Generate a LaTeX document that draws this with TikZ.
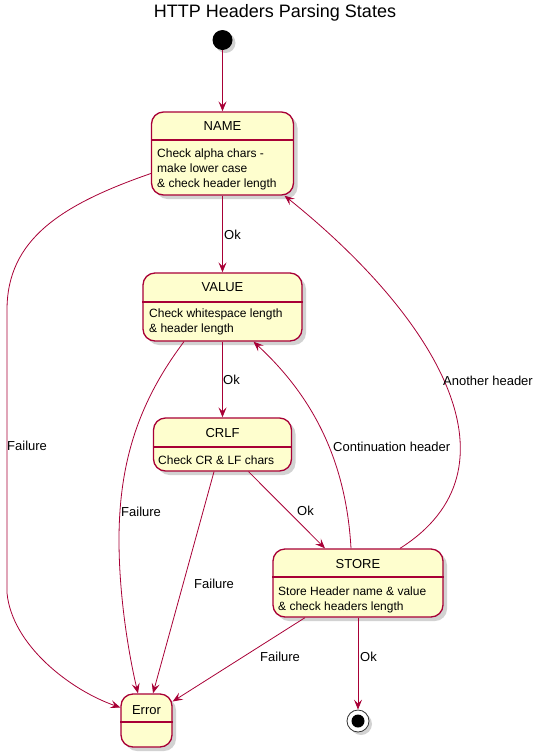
\documentclass[tikz,border=0pt]{standalone}
\usepackage{fontspec}
\setmainfont{Liberation Sans}
\usepackage{tikz}
\usetikzlibrary{arrows.meta,calc,shadows}
\definecolor{umlred}{RGB}{168,0,54}
\definecolor{umlcream}{RGB}{254,254,206}

\begin{document}
\begin{tikzpicture}[x=1pt,y=-1pt,
  state/.style={draw=umlred,fill=umlcream,line width=1.3pt,rounded corners=12pt,inner sep=0pt,
    drop shadow={shadow xshift=4pt,shadow yshift=-4pt,fill=black!35,opacity=0.5}},
  statename/.style={font=\fontsize{13}{15}\selectfont,inner sep=0pt},
  statebody/.style={font=\fontsize{12}{15}\selectfont,inner sep=0pt,align=left,anchor=north west},
  trans/.style={draw=umlred,line width=0.8pt,-{Stealth[length=10pt,width=8pt,inset=4pt]}},
  lbl/.style={font=\fontsize{13}{15}\selectfont,inner sep=0pt,anchor=west}]
  \useasboundingbox (0,0) rectangle (542,756);
  \node[font=\fontsize{18}{20}\selectfont] (title) at (275,13) {HTTP Headers Parsing States};

  \node[circle,fill=black,minimum size=20pt,inner sep=0pt,
    drop shadow={shadow xshift=3pt,shadow yshift=-3pt,fill=black!35,opacity=0.5}] (start) at (222.5,40) {};

  \node[state,minimum width=142pt,minimum height=83pt] (name) at (222.5,153.5) {};
  \draw[umlred,line width=1.3pt] (name.west |- 0,140) -- (name.east |- 0,140);
  \node[statename] at (222.5,126) {NAME};
  \node[statebody] at (157,148.5) {Check alpha chars -\\make lower case\\\& check header length};

  \node[state,minimum width=159pt,minimum height=68pt] (value) at (222.5,307) {};
  \draw[umlred,line width=1.3pt] (value.west |- 0,302) -- (value.east |- 0,302);
  \node[statename] at (222.5,287) {VALUE};
  \node[statebody] at (149,308.5) {Check whitespace length\\\& header length};

  \node[state,minimum width=138pt,minimum height=53pt] (crlf) at (222.5,444.5) {};
  \draw[umlred,line width=1.3pt] (crlf.west |- 0,447) -- (crlf.east |- 0,447);
  \node[statename] at (222.5,433) {CRLF};
  \node[statebody] at (158,455.5) {Check CR \& LF chars};

  \node[state,minimum width=170pt,minimum height=68pt] (store) at (358,583) {};
  \draw[umlred,line width=1.3pt] (store.west |- 0,577) -- (store.east |- 0,577);
  \node[statename] at (358,564) {STORE};
  \node[statebody] at (278,586.5) {Store Header name \& value\\\& check headers length};

  \node[state,minimum width=51pt,minimum height=53pt] (error) at (146.5,720.5) {};
  \draw[umlred,line width=1.3pt] (error.west |- 0,722) -- (error.east |- 0,722);
  \node[statename] at (146.5,710) {Error};

  \node[circle,draw=black!80,fill=white,line width=0.8pt,minimum size=22pt,inner sep=0pt,
    drop shadow={shadow xshift=3pt,shadow yshift=-3pt,fill=black!35,opacity=0.5}] (finish) at (358,721) {};
  \node[circle,fill=black,minimum size=13pt,inner sep=0pt] at (finish) {};

  \draw[trans] (start) -- (name);
  \draw[trans] (name) -- (value);
  \draw[trans] (value) -- (crlf);
  \draw[trans] ($(crlf.south)+(26,0)$) -- ($(store.north)+(-33,0)$);
  \draw[trans] ($(store.north)+(-7,0)$) .. controls +(-5,-89) and +(58.5,54) .. ($(value.south)+(31,0)$);
  \draw[trans] ($(store.north)+(42,0)$) .. controls +(125,-79) and +(155.5,125) .. ($(name.south)+(62,0)$);
  \draw[trans] ($(name.west)+(0,20)$) .. controls (60,205) and (7,240) .. (7,310) -- (7,593)
    .. controls (12,645) and (70,690) .. ($(error.west)+(0,-13)$);
  \draw[trans] ($(value.south)+(-38.5,0)$) .. controls (140,400) and (119,460) .. (119,540)
    .. controls (119,600) and (130,660) .. ($(error.north)+(-8.5,0)$);
  \draw[trans] ($(crlf.south)+(-8.5,0)$) -- ($(error.north)+(6.5,0)$);
  \draw[trans] ($(store.south)+(-53,0)$) -- ($(error.east)+(0,-19)$);
  \draw[trans] (store) -- (finish);

  \node[lbl] at (224,235) {Ok};
  \node[lbl] at (223,380) {Ok};
  \node[lbl] at (297,511) {Ok};
  \node[lbl] at (360,657) {Ok};
  \node[lbl] at (7,446) {Failure};
  \node[lbl] at (121,512) {Failure};
  \node[lbl] at (194,584) {Failure};
  \node[lbl] at (260,657) {Failure};
  \node[lbl] at (333,447) {Continuation header};
  \node[lbl] at (443,381) {Another header};
\end{tikzpicture}
\end{document}
